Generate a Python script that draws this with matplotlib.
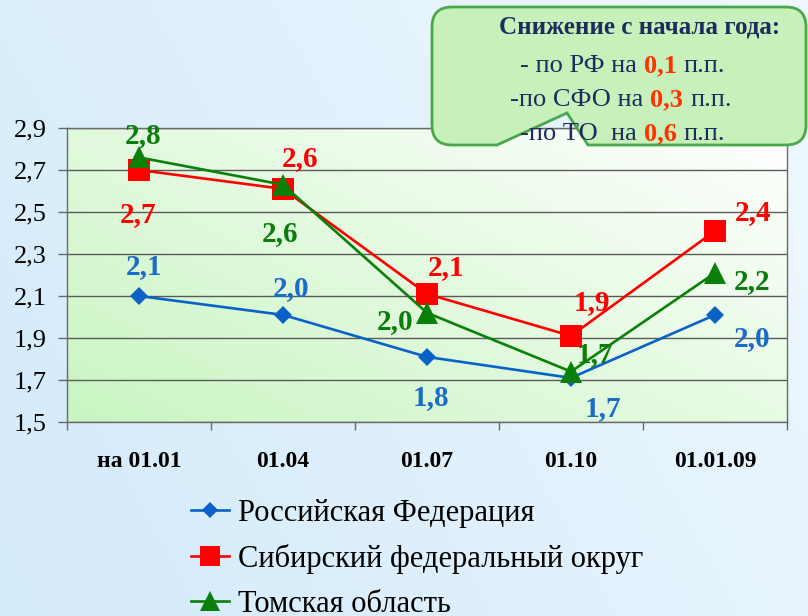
import numpy as np
import matplotlib
matplotlib.use('Agg')
import matplotlib.pyplot as plt
from matplotlib.path import Path
from matplotlib.patches import PathPatch
from matplotlib.colors import to_rgb

# ---------------- data ----------------
categories = ['на 01.01', '01.04', '01.07', '01.10', '01.01.09']
series_names = ['Российская Федерация', 'Сибирский федеральный округ', 'Томская область']
rf_values = [2.10, 2.01, 1.81, 1.71, 2.01]
sfo_values = [2.70, 2.61, 2.11, 1.91, 2.41]
to_values = [2.76, 2.63, 2.02, 1.74, 2.21]
y_ticks = [1.5, 1.7, 1.9, 2.1, 2.3, 2.5, 2.7, 2.9]
y_tick_labels = ['1,5', '1,7', '1,9', '2,1', '2,3', '2,5', '2,7', '2,9']
callout_title = 'Снижение с начала года:'
decline_regions = ['- по РФ на', '-по СФО на', '-по ТО  на']
decline_values = ['0,1', '0,3', '0,6']
decline_unit = 'п.п.'

# ---------------- style ----------------
SERIF = ['Liberation Serif', 'DejaVu Serif']
plt.rcParams['font.family'] = SERIF
colors = ['#0a62c9', '#ff0000', '#0a800a']
label_colors = ['#1a6cc8', '#ff0000', '#0a7d0a']
markers = ['D', 's', '^']
msizes = [9.5, 15.5, 16]
# label offsets in points (dx, dy) per series / point
label_offsets = [
    [(4, 21), (6, 19), (3, -29), (23, -22), (27, -17)],
    [(-1, -32), (12, 22), (14, 19), (15, 24), (27, 13)],
    [(3, 16), (-2, -35), (-23, -6), (17, 12), (27, -6)],
]

W, H = 808, 616
fig = plt.figure(figsize=(W / 100, H / 100), dpi=100)

# figure background gradient (diagonal light blue)
bg = fig.add_axes([0, 0, 1, 1], zorder=-10)
gx, gy = np.meshgrid(np.linspace(0, 1, 200), np.linspace(0, 1, 200))
t = np.clip((gx * 0.7 + (1 - gy) * 0.3), 0, 1)
c0 = np.array(to_rgb('#d3eafb'))
c1 = np.array(to_rgb('#eff8fe'))
img = c0[None, None, :] * (1 - t[..., None]) + c1[None, None, :] * t[..., None]
bg.imshow(img, extent=[0, 1, 0, 1], aspect='auto', origin='upper')
bg.axis('off')

# main axes
L, R, T, B = 67, 787, 128, 422
ax = fig.add_axes([L / W, 1 - B / H, (R - L) / W, (B - T) / H], zorder=0)
ax.patch.set_visible(False)

# plot-area gradient: green bottom-left to white top-right (origin lower)
t2 = np.clip(gx * 0.55 + gy * 0.45, 0, 1)
p0 = np.array(to_rgb('#c9f5c2'))
p1 = np.array(to_rgb('#ffffff'))
img2 = p0[None, None, :] * (1 - t2[..., None]) + p1[None, None, :] * t2[..., None]
ax.imshow(img2, extent=[0, 1, 0, 1], transform=ax.transAxes, aspect='auto',
          origin='lower', zorder=0)

x = np.arange(len(categories))
all_values = [rf_values, sfo_values, to_values]
lines = []
for i, vals in enumerate(all_values):
    ln, = ax.plot(x, vals, color=colors[i], lw=1.9, marker=markers[i],
                  markersize=msizes[i], markeredgewidth=0, zorder=3 + i,
                  label=series_names[i], clip_on=False)
    lines.append(ln)
    for j, v in enumerate(vals):
        dx, dy = label_offsets[i][j]
        ax.annotate(f'{v:.1f}'.replace('.', ','), xy=(x[j], v), xytext=(dx, dy),
                    textcoords='offset points', ha='center', va='center',
                    fontsize=21, fontweight='bold', color=label_colors[i],
                    zorder=10, annotation_clip=False)

ax.set_xlim(-0.5, len(categories) - 0.5)
ax.set_ylim(y_ticks[0], y_ticks[-1])
ax.set_yticks(y_ticks)
ax.set_yticklabels(y_tick_labels)
ax.set_xticks(x)
ax.set_xticklabels(categories, fontweight='bold', fontsize=17)
ax.set_xticks(np.arange(-0.5, len(categories)), minor=True)
ax.tick_params(axis='x', which='major', length=0, pad=21)
ax.tick_params(axis='x', which='minor', length=6, width=1, color='#6a6a6a', direction='out')
ax.tick_params(axis='y', which='major', length=6.5, width=1, color='#6a6a6a',
               direction='out', labelsize=19, pad=8)
ax.grid(axis='y', color='#5a5a5a', lw=1.0)
ax.set_axisbelow(True)
for s in ax.spines.values():
    s.set_color('#6a6a6a')
    s.set_linewidth(1.0)
for lbl in ax.get_xticklabels() + ax.get_yticklabels():
    lbl.set_color('black')

# legend
leg = fig.legend(handles=lines, loc='upper left', bbox_to_anchor=(191 / W, 1 - 499 / H),
                 frameon=False, fontsize=22, handlelength=1.25, handletextpad=0.3,
                 labelspacing=0.52, borderpad=0, borderaxespad=0)
for h in leg.legend_handles:
    h.set_markersize(h.get_markersize() * 0.9)

# callout overlay (pixel coordinates)
ov = fig.add_axes([0, 0, 1, 1], zorder=6)
ov.set_xlim(0, W)
ov.set_ylim(H, 0)
ov.axis('off')
ov.patch.set_alpha(0)

x0, x1, y0, y1, r = 432, 806, 7, 145, 20
verts = [
    (x0 + r, y0), (x1 - r, y0), (x1, y0), (x1, y0 + r), (x1, y1 - r), (x1, y1), (x1 - r, y1),
    (588, y1), (567, 113), (497, y1),
    (x0 + r, y1), (x0, y1), (x0, y1 - r), (x0, y0 + r), (x0, y0), (x0 + r, y0), (x0 + r, y0)
]
codes = [Path.MOVETO, Path.LINETO, Path.CURVE3, Path.CURVE3, Path.LINETO, Path.CURVE3, Path.CURVE3,
         Path.LINETO, Path.LINETO, Path.LINETO,
         Path.LINETO, Path.CURVE3, Path.CURVE3, Path.LINETO, Path.CURVE3, Path.CURVE3, Path.CLOSEPOLY]
ov.add_patch(PathPatch(Path(verts, codes), facecolor='#c8f0ba', edgecolor='#4aa84a', lw=2.0,
                       clip_on=False))

navy = '#1c2c5c'
red = '#ff3300'
ov.text(640, 33, callout_title, ha='center', va='baseline', fontsize=18, fontweight='bold',
        color=navy)
line_starts = [(520, 72), (510, 106), (520, 140)]
for (sx, sy), reg, val in zip(line_starts, decline_regions, decline_values):
    t_a = ov.text(sx, sy, reg, ha='left', va='baseline', fontsize=19, color=navy)
    t_b = ov.annotate(val, xy=(1, 0), xycoords=t_a, xytext=(5, 0), textcoords='offset points',
                      ha='left', va='bottom', fontsize=19, fontweight='bold', color=red)
    ov.annotate(decline_unit, xy=(1, 0), xycoords=t_b, xytext=(5, 0), textcoords='offset points',
                ha='left', va='bottom', fontsize=19, color=navy)

fig.savefig('out.png', dpi=100)
